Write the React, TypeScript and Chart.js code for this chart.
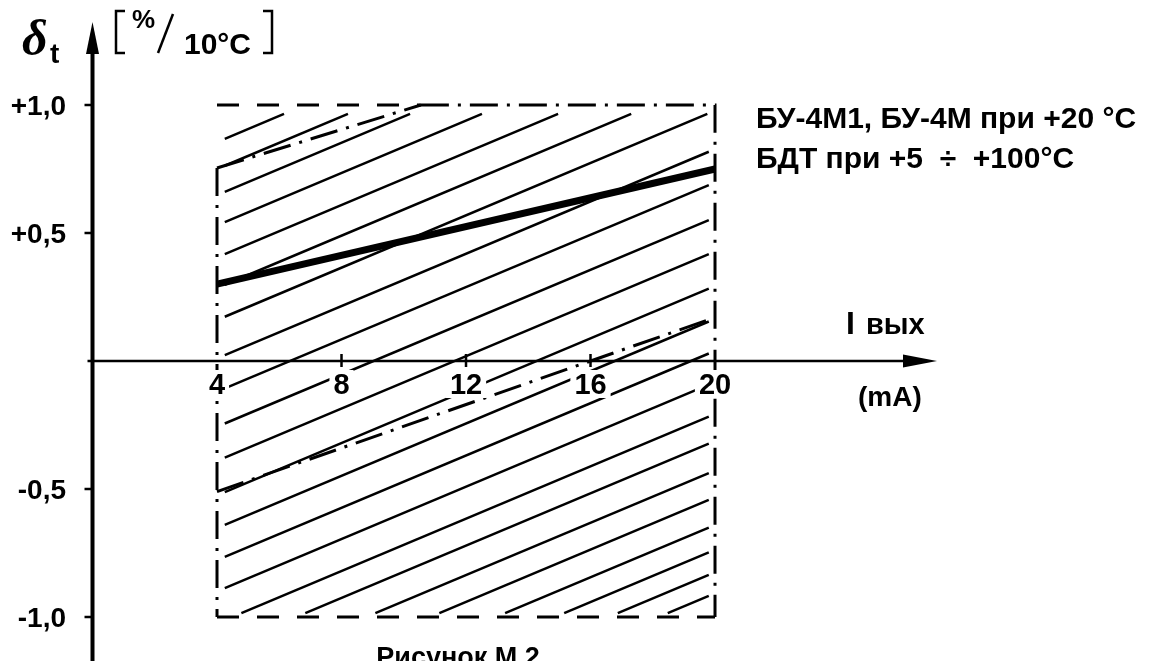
import React, { useEffect, useRef } from 'react';
import { Chart, registerables } from 'chart.js';

Chart.register(...registerables);

// ---- data ----
const currentRange = [4, 20]; // mA, borders of the tolerance field
const errorRange = [-1, 1]; // %/10°C
const xTickValues = [4, 8, 12, 16, 20];
const xTickLabels = ['4', '8', '12', '16', '20'];
const xMinorTicks = [8, 12, 16];
const yTickValues = [1, 0.5, -0.5, -1];
const yTickLabels = ['+1,0', '+0,5', '-0,5', '-1,0'];
const typicalX = [4, 20];
const typicalY = [0.3, 0.75];
const upperLimitX = [4, 10.55];
const upperLimitY = [0.754, 1.0];
const lowerLimitX = [4, 20];
const lowerLimitY = [-0.51, 0.17];
const topDashedEnd = 10.55;
const hatchIntercepts = [
  0.855, 0.75, 0.648, 0.53, 0.405, 0.285, 0.16, 0.01, -0.12, -0.257, -0.39, -0.525,
  -0.653, -0.778, -0.9, -1.025, -1.13, -1.245, -1.35, -1.458, -1.555, -1.643, -1.725,
];
const hatchSlope = 0.0511;
const hatchInsetX = [4.25, 19.8];
const hatchInsetY = [-0.985, 0.965];
const legendLines = ['БУ-4М1, БУ-4М при +20 °C', 'БДТ при +5  ÷  +100°C'];
const xAxisTitle = 'I';
const xAxisTitleSub = 'вых';
const xAxisUnit = '(mA)';
const captionText = 'Рисунок М.2';

const FONT = "'Liberation Sans', Arial, sans-serif";
const DASH = [22, 18];
const DASH_DOT = [28, 9, 3, 9];

function hatchLine(b: number) {
  const s = hatchSlope;
  const xs = Math.max(hatchInsetX[0], 4 + (hatchInsetY[0] - b) / s);
  const xe = Math.min(hatchInsetX[1], 4 + (hatchInsetY[1] - b) / s);
  if (xs >= xe) return [];
  return [
    { x: xs, y: b + s * (xs - 4) },
    { x: xe, y: b + s * (xe - 4) },
  ];
}

const pairs = (xs: number[], ys: number[]) => xs.map((x, i) => ({ x, y: ys[i] }));

const overlay = {
  id: 'overlay',
  afterDatasetsDraw(chart: any) {
    const { ctx } = chart;
    const sx = chart.scales.x;
    const sy = chart.scales.y;
    const X = (v: number) => sx.getPixelForValue(v);
    const Y = (v: number) => sy.getPixelForValue(v);
    const ax = X(0);
    const ay = Y(0);
    ctx.save();
    ctx.fillStyle = '#000';
    ctx.strokeStyle = '#000';
    ctx.lineCap = 'butt';

    // y axis with arrow
    ctx.lineWidth = 4;
    ctx.beginPath();
    ctx.moveTo(ax, chart.height);
    ctx.lineTo(ax, 50);
    ctx.stroke();
    ctx.beginPath();
    ctx.moveTo(ax, 22);
    ctx.lineTo(ax - 6.5, 54);
    ctx.lineTo(ax + 6.5, 54);
    ctx.closePath();
    ctx.fill();

    // x axis with arrow
    ctx.lineWidth = 2.5;
    ctx.beginPath();
    ctx.moveTo(ax - 5, ay);
    ctx.lineTo(910, ay);
    ctx.stroke();
    ctx.beginPath();
    ctx.moveTo(937, ay);
    ctx.lineTo(903, ay - 6.5);
    ctx.lineTo(903, ay + 6.5);
    ctx.closePath();
    ctx.fill();

    // y ticks + labels
    ctx.font = `bold 28px ${FONT}`;
    ctx.textBaseline = 'alphabetic';
    yTickValues.forEach((v, i) => {
      const py = Y(v);
      ctx.lineWidth = 2.5;
      ctx.beginPath();
      ctx.moveTo(ax - 8, py);
      ctx.lineTo(ax, py);
      ctx.stroke();
      ctx.textAlign = 'right';
      ctx.fillText(yTickLabels[i], 66, py + 10);
    });

    // x ticks
    xMinorTicks.forEach((v) => {
      const px = X(v);
      ctx.lineWidth = 2.5;
      ctx.beginPath();
      ctx.moveTo(px, ay - 7);
      ctx.lineTo(px, ay + 6);
      ctx.stroke();
    });
    // x labels with white background
    ctx.textAlign = 'center';
    ctx.font = `bold 29px ${FONT}`;
    xTickValues.forEach((v, i) => {
      const px = X(v);
      const w = ctx.measureText(xTickLabels[i]).width;
      ctx.fillStyle = '#fff';
      ctx.fillRect(px - w / 2 - 4, ay + 9, w + 8, 28);
      ctx.fillStyle = '#000';
      ctx.fillText(xTickLabels[i], px, ay + 33);
    });

    // x axis title
    ctx.textAlign = 'left';
    ctx.font = `bold 32px ${FONT}`;
    ctx.fillText(xAxisTitle, 846, 334);
    ctx.font = `bold 29px ${FONT}`;
    ctx.fillText(xAxisTitleSub, 866, 334);
    ctx.font = `bold 28px ${FONT}`;
    ctx.fillText(xAxisUnit, 858, 406);

    // legend text
    ctx.font = `bold 30px ${FONT}`;
    ctx.fillText(legendLines[0], 756, 128);
    ctx.fillText(legendLines[1], 756, 168);

    // y axis title: delta_t [ %/10°C ]
    ctx.font = `italic bold 50px 'Liberation Serif', 'DejaVu Serif', serif`;
    ctx.fillText('δ', 22, 55);
    ctx.font = `bold 28px ${FONT}`;
    ctx.fillText('t', 50, 63);
    ctx.lineWidth = 2.5;
    ctx.beginPath();
    ctx.moveTo(125, 11);
    ctx.lineTo(116, 11);
    ctx.lineTo(116, 53);
    ctx.lineTo(125, 53);
    ctx.stroke();
    ctx.beginPath();
    ctx.moveTo(263, 11);
    ctx.lineTo(272, 11);
    ctx.lineTo(272, 53);
    ctx.lineTo(263, 53);
    ctx.stroke();
    ctx.font = `bold 26px ${FONT}`;
    ctx.fillText('%', 132, 28);
    ctx.beginPath();
    ctx.moveTo(173, 14);
    ctx.lineTo(158, 53);
    ctx.stroke();
    ctx.font = `bold 30px ${FONT}`;
    ctx.fillText('10°C', 184, 54);

    // caption
    ctx.textAlign = 'center';
    ctx.font = `bold 27px ${FONT}`;
    ctx.fillText(captionText, 458, 666);
    ctx.restore();
  },
};

export default function App() {
  const ref = useRef<HTMLCanvasElement | null>(null);
  useEffect(() => {
    if (!ref.current) return;
    const base = {
      showLine: true,
      pointRadius: 0,
      borderColor: '#000',
      backgroundColor: '#000',
      fill: false,
      tension: 0,
      borderCapStyle: 'butt',
    };
    const datasets: any[] = [];
    hatchIntercepts.forEach((b) => {
      datasets.push({ ...base, data: hatchLine(b), borderWidth: 2.5 });
    });
    datasets.push({
      ...base,
      data: [
        { x: currentRange[0], y: errorRange[0] },
        { x: currentRange[1], y: errorRange[0] },
      ],
      borderWidth: 3,
      borderDash: DASH,
    });
    datasets.push({
      ...base,
      data: [
        { x: currentRange[0], y: errorRange[1] },
        { x: topDashedEnd, y: errorRange[1] },
      ],
      borderWidth: 3,
      borderDash: DASH,
    });
    datasets.push({
      ...base,
      data: [
        { x: topDashedEnd, y: errorRange[1] },
        { x: currentRange[1], y: errorRange[1] },
        { x: currentRange[1], y: errorRange[0] },
      ],
      borderWidth: 3,
      borderDash: DASH_DOT,
    });
    datasets.push({
      ...base,
      data: [
        { x: currentRange[0], y: upperLimitY[0] },
        { x: currentRange[0], y: errorRange[0] },
      ],
      borderWidth: 3,
      borderDash: DASH_DOT,
    });
    datasets.push({ ...base, data: pairs(upperLimitX, upperLimitY), borderWidth: 3, borderDash: DASH_DOT });
    datasets.push({ ...base, data: pairs(lowerLimitX, lowerLimitY), borderWidth: 3, borderDash: DASH_DOT });
    datasets.push({ ...base, data: pairs(typicalX, typicalY), borderWidth: 7 });

    const chart = new Chart(ref.current, {
      type: 'scatter',
      data: { datasets },
      options: {
        responsive: false,
        animation: false,
        devicePixelRatio: 1,
        events: [],
        layout: { padding: 0 },
        plugins: { legend: { display: false }, tooltip: { enabled: false } },
        scales: {
          x: { type: 'linear', display: false, min: -2.972, max: 34.104 },
          y: { type: 'linear', display: false, min: -1.171875, max: 1.41016 },
        },
      } as any,
      plugins: [overlay],
    });
    return () => chart.destroy();
  }, []);
  return (
    <div style={{ position: 'fixed', left: 0, top: 0, width: 1154, height: 661, background: '#fff' }}>
      <canvas ref={ref} width={1154} height={661} style={{ display: 'block' }} />
    </div>
  );
}
